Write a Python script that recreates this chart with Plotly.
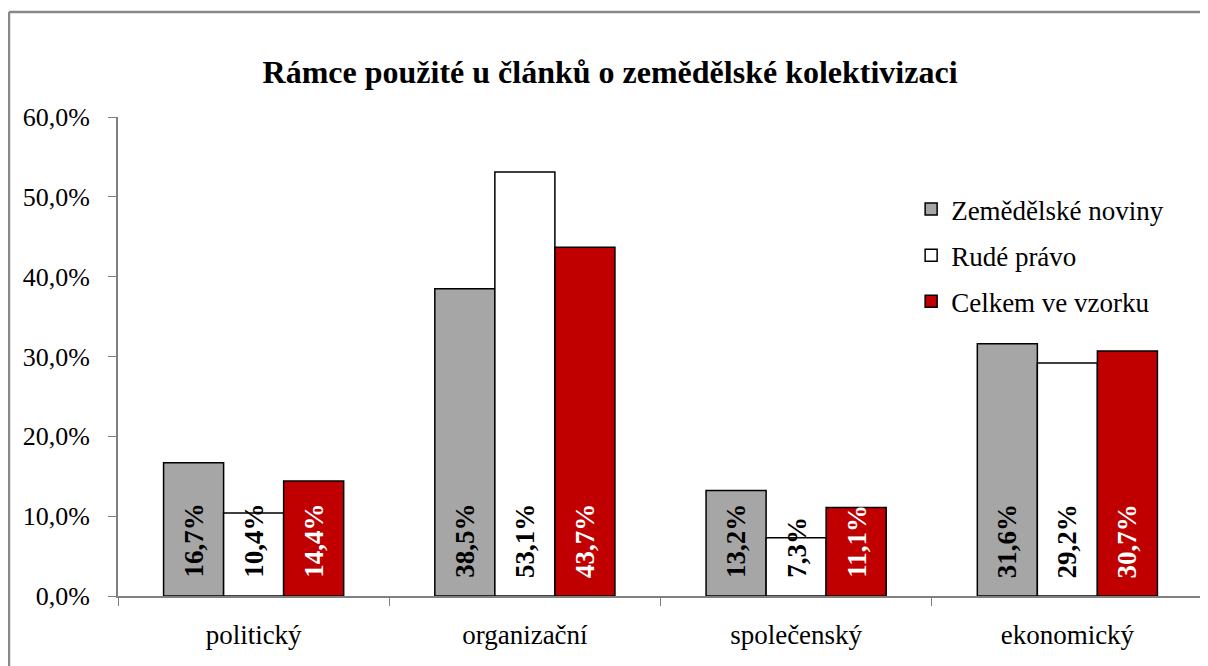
import plotly.graph_objects as go

categories = ["politický", "organizační", "společenský", "ekonomický"]
series_names = ["Zemědělské noviny", "Rudé právo", "Celkem ve vzorku"]
zemedelske_noviny = [16.7, 38.5, 13.2, 31.6]
rude_pravo = [10.4, 53.1, 7.3, 29.2]
celkem = [14.4, 43.7, 11.1, 30.7]
y_ticks = [0, 10, 20, 30, 40, 50, 60]
y_tick_labels = ["0,0%", "10,0%", "20,0%", "30,0%", "40,0%", "50,0%", "60,0%"]

FONT = "Times New Roman, Liberation Serif, serif"
fills = ["#A6A6A6", "#FFFFFF", "#C00000"]
txtcol = ["black", "black", "white"]
BARGAP = 0.336

def fmt(v):
    return f"{v:.1f}".replace(".", ",") + "%"

fig = go.Figure()
annotations = []
all_series = [zemedelske_noviny, rude_pravo, celkem]
n = len(all_series)
bw = (1 - BARGAP) / n
for i, (name, vals) in enumerate(zip(series_names, all_series)):
    fig.add_trace(go.Bar(
        x=categories, y=vals, name=name,
        marker=dict(color=fills[i], line=dict(color="black", width=1.5)),
        legendgroup=f"g{i}",
    ))
    for ci, v in enumerate(vals):
        annotations.append(dict(
            x=ci + (i - (n - 1) / 2) * bw, y=0, xref="x", yref="y",
            text=f"<b>{fmt(v)}</b>", textangle=-90, showarrow=False,
            yanchor="bottom", xanchor="center", yshift=16,
            font=dict(family=FONT, size=27, color=txtcol[i]),
        ))

frame = dict(color="#888888", width=2.5)
fig.update_layout(
    width=1200, height=658,
    margin=dict(l=110, r=5, t=109, b=70),
    paper_bgcolor="white", plot_bgcolor="white",
    barmode="group", bargap=BARGAP, bargroupgap=0,
    title=dict(text="<b>Rámce použité u článků o zemědělské kolektivizaci</b>",
               x=0.5017, xanchor="center", y=0.9027, yanchor="middle",
               font=dict(family=FONT, size=32, color="black")),
    font=dict(family=FONT, size=26, color="black"),
    legend=dict(x=0.731, y=0.858, xanchor="left", yanchor="top",
                font=dict(family=FONT, size=27, color="black"),
                tracegroupgap=8, bgcolor="rgba(0,0,0,0)", itemwidth=30),
    showlegend=True,
    annotations=annotations,
    xaxis=dict(showline=True, linecolor="#808080", linewidth=2,
               ticks="outside", tickson="boundaries", ticklen=8, tickcolor="#808080",
               ticklabelstandoff=14,
               tickfont=dict(family=FONT, size=27, color="black"), showgrid=False),
    yaxis=dict(range=[0, 60], tickvals=y_ticks, ticktext=y_tick_labels,
               showline=True, linecolor="#808080", linewidth=2,
               ticks="outside", ticklen=8, tickcolor="#808080",
               ticklabelstandoff=13,
               tickfont=dict(family=FONT, size=26, color="black"), showgrid=False,
               zeroline=False),
    shapes=[
        dict(type="line", xref="paper", yref="paper", x0=-0.1005, y0=-0.5,
             x1=-0.1005, y1=1.219, line=frame, layer="below"),
        dict(type="line", xref="paper", yref="paper", x0=-0.1005, y0=1.219,
             x1=1.5, y1=1.219, line=frame, layer="below"),
    ],
)

fig.write_html("out.html")
